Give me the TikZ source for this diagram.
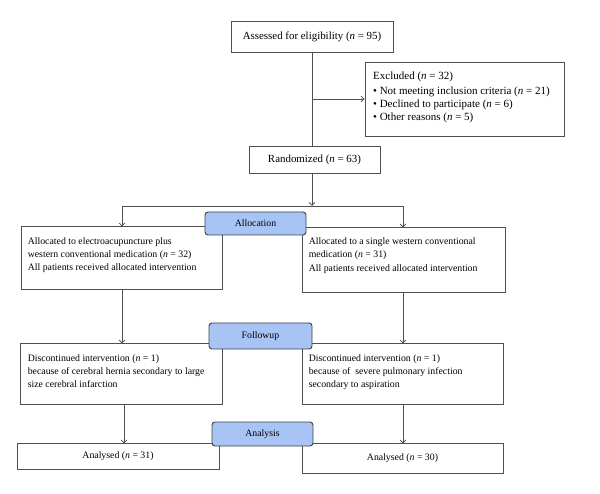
\documentclass[tikz,border=0pt]{standalone}
\usepackage{fontspec}
\setmainfont{Liberation Serif}
\usetikzlibrary{arrows.meta}
\definecolor{linegray}{RGB}{80,80,80}
\definecolor{stagefill}{RGB}{168,196,245}
\tikzset{
  box/.style={draw=linegray, line width=0.8pt, fill=white, inner sep=0pt},
  stage/.style={draw=linegray!80!black, line width=0.9pt, fill=stagefill, rounded corners=3pt, inner sep=0pt},
  lbl/.style={inner sep=0pt, align=left, anchor=north west, font=\fontsize{9.8}{13.2}\selectfont},
  toplbl/.style={inner sep=0pt, align=left, anchor=north west, font=\fontsize{11}{14}\selectfont},
  ctr/.style={inner sep=0pt, font=\fontsize{9.8}{13}\selectfont},
  topctr/.style={inner sep=0pt, font=\fontsize{10.9}{13}\selectfont},
  conn/.style={draw=linegray, line width=0.8pt},
  arr/.style={conn, -{Straight Barb[length=3pt,width=5.5pt]}}
}
\begin{document}
\begin{tikzpicture}[x=1pt,y=-1pt]
\useasboundingbox (0,0) rectangle (600,494);
% boxes
\node[box, minimum width=162pt, minimum height=31pt] (assess) at (312,36.5) {};
\node[topctr] at (assess.center) {Assessed for eligibility (\textit{n} = 95)};
\node[box, minimum width=199pt, minimum height=74pt] (excl) at (464.5,99) {};
\node[toplbl] at (373,72) {Excluded (\textit{n} = 32)\\[1pt]
\textbullet\ Not meeting inclusion criteria (\textit{n} = 21)\\[-1pt]
\textbullet\ Declined to participate (\textit{n} = 6)\\[-1.5pt]
\textbullet\ Other reasons (\textit{n} = 5)};
\node[box, minimum width=131pt, minimum height=27pt] (rand) at (314.5,159.5) {};
\node[topctr] at (rand.center) {Randomized (\textit{n} = 63)};

\node[box, minimum width=201pt, minimum height=63pt] (leftA) at (121.5,257.5) {};
\node[lbl] at (leftA.north west) [xshift=7pt, yshift=-11.5pt] {Allocated to electroacupuncture plus\\
western conventional medication (\textit{n} = 32)\\
All patients received allocated intervention};
\node[box, minimum width=203pt, minimum height=65pt] (rightA) at (403.5,259.5) {};
\node[lbl] at (rightA.north west) [xshift=7pt, yshift=-11pt] {Allocated to a single western conventional\\
medication (\textit{n} = 31)\\[1pt]
All patients received allocated intervention};
\node[stage, minimum width=101pt, minimum height=23pt] (alloc) at (255.5,223.5) {};
\node[ctr] at (alloc.center) {Allocation};

\node[box, minimum width=202pt, minimum height=61pt] (leftF) at (121,373.5) {};
\node[lbl] at (leftF.north west) [xshift=8pt, yshift=-11.5pt] {Discontinued intervention (\textit{n} = 1)\\
because of cerebral hernia secondary to large\\
size cerebral infarction};
\node[box, minimum width=201pt, minimum height=61pt] (rightF) at (402.5,373.5) {};
\node[lbl] at (rightF.north west) [xshift=7pt, yshift=-11.5pt] {Discontinued intervention (\textit{n} = 1)\\
because of~ severe pulmonary infection\\
secondary to aspiration};
\node[stage, minimum width=103pt, minimum height=26pt] (follow) at (260.5,336) {};
\node[ctr] at (follow.center) {Followup};

\node[box, minimum width=202pt, minimum height=26pt] (leftN) at (118,456) {};
\node[ctr] at (leftN.center) {Analysed (\textit{n} = 31)};
\node[box, minimum width=201pt, minimum height=30pt] (rightN) at (402.5,458) {};
\node[ctr] at (rightN.center) {Analysed (\textit{n} = 30)};
\node[stage, minimum width=101pt, minimum height=24pt] (analysis) at (262.5,434) {};
\node[ctr] at (analysis.center) {Analysis};

% connectors
\coordinate (branch) at (312,99);
\coordinate (split) at (312,206);
\coordinate (splitL) at (122,206);
\coordinate (splitR) at (403,206);
\draw[conn] (assess.south) -- (rand.north -| assess.south);
\draw[arr] (branch) -- (excl.west |- branch);
\draw[arr] (rand.south -| assess.south) -- (split);
\draw[conn] (splitL) -- (splitR);
\draw[arr] (splitL) -- ([yshift=-1pt]splitL |- leftA.north);
\draw[arr] (splitR) -- ([yshift=-1pt]splitR |- rightA.north);
\draw[arr] (leftA.south -| splitL) -- ([yshift=-1pt]splitL |- leftF.north);
\draw[arr] (rightA.south -| splitR) -- ([yshift=-1pt]splitR |- rightF.north);
\draw[arr] ([xshift=2pt]leftF.south -| splitL) -- ([xshift=2pt,yshift=-1pt]splitL |- leftN.north);
\draw[arr] (rightF.south -| splitR) -- ([yshift=-1pt]splitR |- rightN.north);
\end{tikzpicture}
\end{document}
